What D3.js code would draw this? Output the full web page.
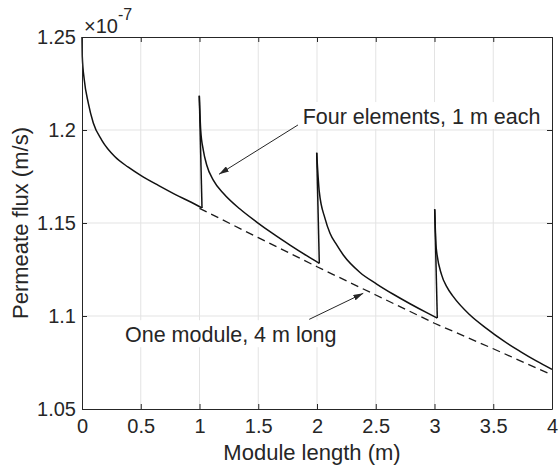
<!DOCTYPE html>
<html>
<head>
<meta charset="utf-8">
<script src="https://cdn.jsdelivr.net/npm/d3@7"></script>
<style>
  body { margin: 0; background: #fff; }
  svg { display: block; font-family: "Liberation Sans", Arial, sans-serif; }
</style>
</head>
<body>
<div id="chart"></div>
<script>
// axis ticks
const xTicks = [0, 0.5, 1, 1.5, 2, 2.5, 3, 3.5, 4]
const yTicks = [1.05, 1.1, 1.15, 1.2, 1.25]

// four elements of 1 m each, flux in units of 1e-7 m/s
const elementX = [
  [0, 0.0026, 0.0196, 0.0536, 0.0962, 0.1677, 0.2809, 0.394, 0.4996, 0.6494, 0.7915, 0.9336, 1.0213],
  [0.9983, 1.0102, 1.0323, 1.0613, 1.1174, 1.2026, 1.3447, 1.4868, 1.6281, 1.7702, 1.9123, 2.0196],
  [1.9974, 2.0196, 2.068, 2.1106, 2.1677, 2.2238, 2.366, 2.508, 2.6494, 2.7915, 2.9336, 3.0238],
  [3.0017, 3.0145, 3.0613, 3.1038, 3.16, 3.3021, 3.4443, 3.5855, 3.7277, 3.8698, 4.0]
]
const elementY = [
  [1.25, 1.2392, 1.2269, 1.2145, 1.2038, 1.1946, 1.1856, 1.18, 1.1756, 1.1702, 1.1654, 1.161, 1.1581],
  [1.2184, 1.2, 1.1892, 1.1812, 1.1731, 1.166, 1.1575, 1.1505, 1.1441, 1.1381, 1.1324, 1.1283],
  [1.1878, 1.1667, 1.1525, 1.1445, 1.1382, 1.1328, 1.1234, 1.1172, 1.1117, 1.1066, 1.1018, 1.0989],
  [1.1574, 1.1366, 1.122, 1.1158, 1.1104, 1.1005, 1.0932, 1.0867, 1.081, 1.0757, 1.0713]
]

// one module 4 m long (same as first element up to 1 m)
const moduleX = [1.0, 1.5, 2.0, 2.5, 3.0, 3.5, 4.0]
const moduleY = [1.1579, 1.1421, 1.1265, 1.1113, 1.0961, 1.0824, 1.0683]

// text arrows, in data units
const notes = [
  { text: 'Four elements, 1 m each', at: [1.878, 1.2032], from: [1.838, 1.2027], to: [1.166, 1.1762] },
  { text: 'One module, 4 m long', at: [0.366, 1.0859], from: [1.934, 1.0982], to: [2.394, 1.1122] }
]

const width = 560, height = 466
const margin = { top: 37, right: 8, bottom: 57, left: 82 }
const ink = '#262626'

const svg = d3.select('#chart').append('svg')
  .attr('width', width)
  .attr('height', height)

const x = d3.scaleLinear().domain([0, 4]).range([margin.left, width - margin.right])
const y = d3.scaleLinear().domain([1.05, 1.25]).range([height - margin.bottom, margin.top])
const fmt = d => String(+d.toFixed(2))

const x0 = x.range()[0], x1 = x.range()[1]
const y0 = y.range()[0], y1 = y.range()[1]

// grid
const grid = svg.append('g').attr('stroke', '#e3e3e3').attr('stroke-width', 1)
grid.selectAll('.gx').data(xTicks.slice(1, -1)).enter().append('line')
  .attr('x1', d => x(d)).attr('x2', d => x(d))
  .attr('y1', y0).attr('y2', y1)
grid.selectAll('.gy').data(yTicks.slice(1, -1)).enter().append('line')
  .attr('x1', x0).attr('x2', x1)
  .attr('y1', d => y(d)).attr('y2', d => y(d))

// curves
const plot = svg.append('g').attr('fill', 'none')

const smooth = d3.line().x(d => x(d[0])).y(d => y(d[1])).curve(d3.curveMonotoneX)
const straight = d3.line().x(d => x(d[0])).y(d => y(d[1]))

plot.append('path')
  .attr('d', straight(moduleX.map((v, i) => [v, moduleY[i]])))
  .attr('stroke', '#1a1a1a')
  .attr('stroke-width', 1.3)
  .attr('stroke-dasharray', '8,5')

const elements = elementX.map((xs, k) => xs.map((v, i) => [v, elementY[k][i]]))

elements.forEach((pts, k) => {
  plot.append('path')
    .attr('d', smooth(pts))
    .attr('stroke', '#111')
    .attr('stroke-width', 1.5)
  if (k > 0) {
    // jump at the inlet of the next element
    const prev = elements[k - 1]
    plot.append('path')
      .attr('d', straight([prev[prev.length - 1], pts[0]]))
      .attr('stroke', '#111')
      .attr('stroke-width', 1.5)
  }
})

// axes box with inward ticks
const tick = 5
svg.append('g')
  .attr('transform', `translate(0,${y0})`)
  .call(d3.axisBottom(x).tickValues(xTicks).tickFormat(fmt).tickSizeInner(-tick).tickSizeOuter(0).tickPadding(10))
svg.append('g')
  .attr('transform', `translate(0,${y1})`)
  .call(d3.axisTop(x).tickValues(xTicks).tickFormat('').tickSizeInner(-tick).tickSizeOuter(0))
svg.append('g')
  .attr('transform', `translate(${x0},0)`)
  .call(d3.axisLeft(y).tickValues(yTicks).tickFormat(fmt).tickSizeInner(-tick).tickSizeOuter(0).tickPadding(6))
svg.append('g')
  .attr('transform', `translate(${x1},0)`)
  .call(d3.axisRight(y).tickValues(yTicks).tickFormat('').tickSizeInner(-tick).tickSizeOuter(0))

svg.selectAll('.domain').attr('stroke', ink)
svg.selectAll('.tick line').attr('stroke', ink)
svg.selectAll('.tick text').attr('fill', ink).style('font-size', '20px').style('font-family', null)

// exponent
const expo = svg.append('text')
  .attr('x', x0 + 2)
  .attr('y', y1 - 4)
  .attr('fill', ink)
  .style('font-size', '20px')
expo.append('tspan').text('×10')
expo.append('tspan').attr('dy', -13).style('font-size', '16px').text('-7')

// axis labels
svg.append('text')
  .attr('x', 312)
  .attr('y', height - 6)
  .attr('text-anchor', 'middle')
  .attr('fill', ink)
  .style('font-size', '22px')
  .text('Module length (m)')

svg.append('text')
  .attr('transform', `translate(28,${(y0 + y1) / 2}) rotate(-90)`)
  .attr('text-anchor', 'middle')
  .attr('fill', ink)
  .style('font-size', '22px')
  .text('Permeate flux (m/s)')

// annotations
svg.append('defs').append('marker')
  .attr('id', 'head')
  .attr('viewBox', '0 0 10 6')
  .attr('refX', 10).attr('refY', 3)
  .attr('markerWidth', 10).attr('markerHeight', 6)
  .attr('markerUnits', 'userSpaceOnUse')
  .attr('orient', 'auto')
  .append('path').attr('d', 'M0,0L10,3L0,6Z').attr('fill', ink)

notes.forEach(n => {
  const g = svg.append('g')
  g.append('line')
    .attr('x1', x(n.from[0])).attr('y1', y(n.from[1]))
    .attr('x2', x(n.to[0])).attr('y2', y(n.to[1]))
    .attr('stroke', ink)
    .attr('stroke-width', 1)
    .attr('marker-end', 'url(#head)')
  const bg = g.append('rect').attr('fill', '#fff')
  const t = g.append('text')
    .attr('x', x(n.at[0]))
    .attr('y', y(n.at[1]))
    .attr('fill', ink)
    .style('font-size', '21.5px')
    .text(n.text)
  const b = t.node().getBBox()
  bg.attr('x', b.x - 3).attr('y', b.y - 3).attr('width', b.width + 6).attr('height', b.height + 3)
})
</script>
</body>
</html>
